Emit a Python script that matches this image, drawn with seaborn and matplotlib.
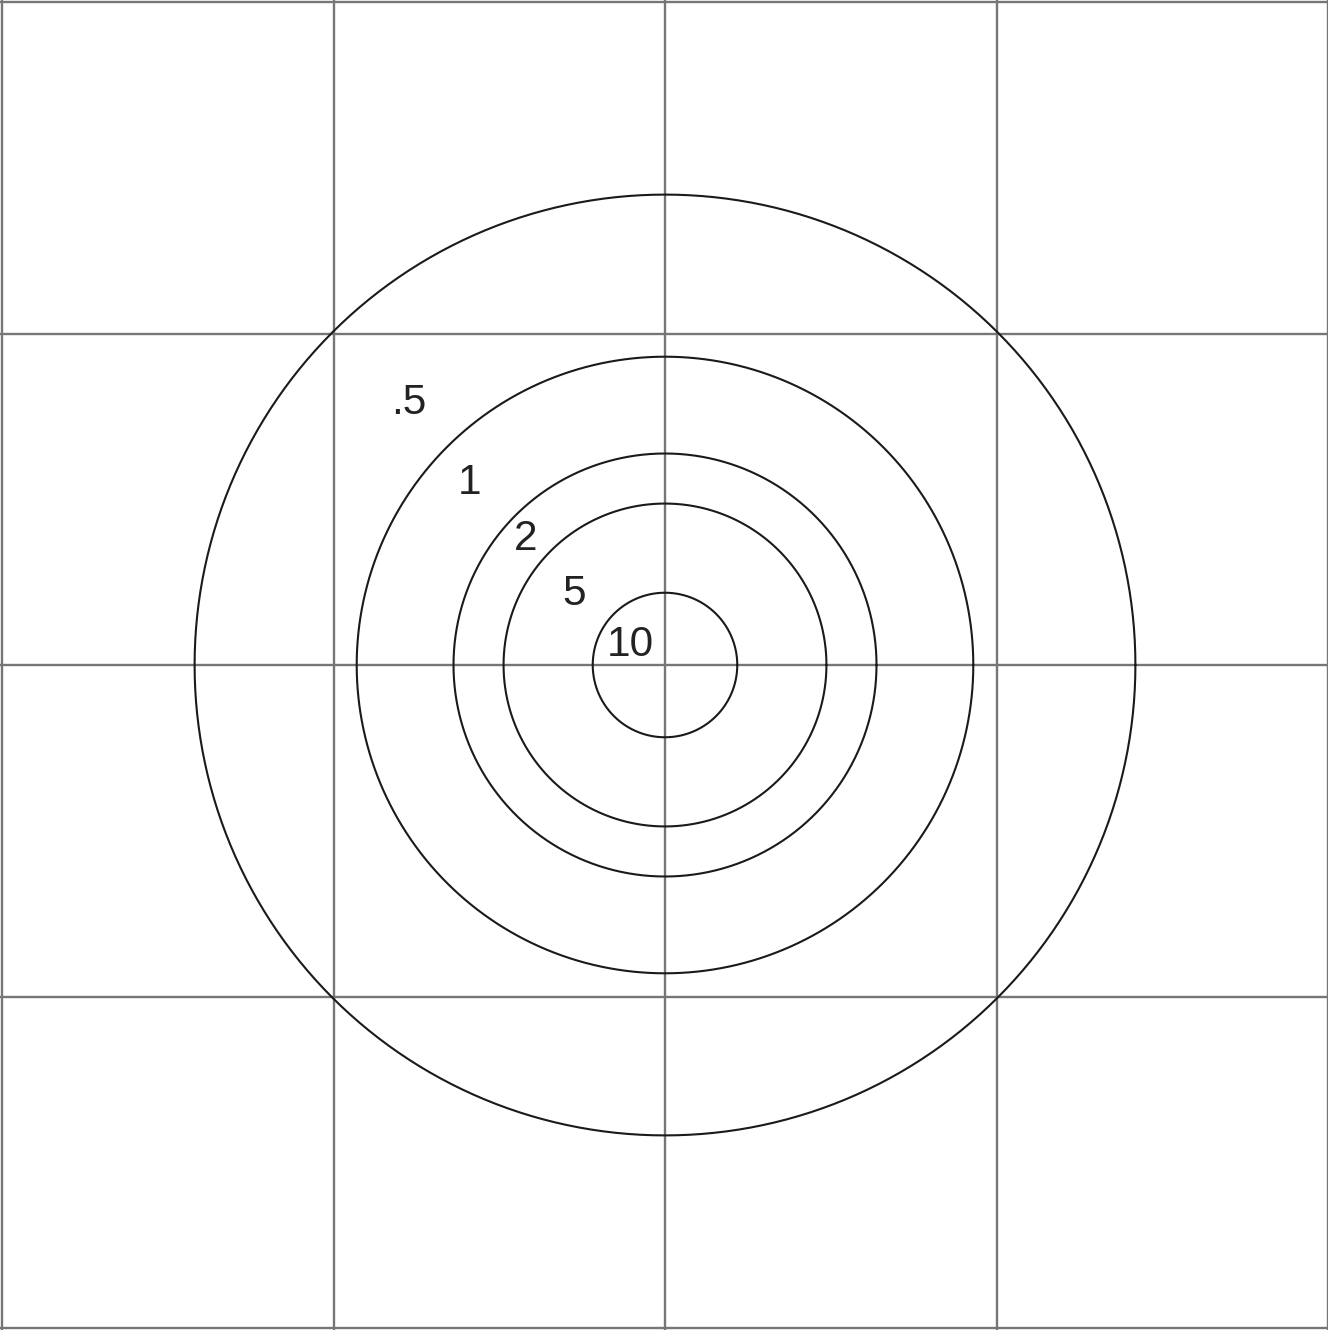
import numpy as np
import pandas as pd
import matplotlib
matplotlib.use("Agg")
import matplotlib.pyplot as plt
import seaborn as sns

# Ring values and radii (grid units, one grid cell = 1)
ring_labels = [".5", "1", "2", "5", "10"]
ring_radii = [1.419, 0.930, 0.638, 0.487, 0.218]
# label positions (grid units, centre = 0,0)
label_x = [-0.772, -0.59, -0.42, -0.275, -0.105]
label_y = [0.79, 0.55, 0.38, 0.215, 0.06]
grid_ticks = [-2, -1, 0, 1, 2]

sns.set_theme(style="white")
plt.rcParams['font.family'] = ['Liberation Sans', 'DejaVu Sans']

theta = np.linspace(0, 2 * np.pi, 721)
rows = []
for lab, r in zip(ring_labels, ring_radii):
    for i, t in enumerate(theta):
        rows.append({"ring": lab, "i": i, "x": r * np.cos(t), "y": r * np.sin(t)})
df = pd.DataFrame(rows)

fig = plt.figure(figsize=(13.28, 13.30), dpi=100)
ax = fig.add_axes([0, 0, 1, 1])
u = 331.5
ax.set_xlim(-665 / u, 663 / u)
ax.set_ylim(-665 / u, 665 / u)

for g in grid_ticks:
    ax.axvline(g, color="#767676", lw=1.7, zorder=1)
    ax.axhline(g, color="#767676", lw=1.7, zorder=1)

sns.lineplot(data=df, x="x", y="y", units="ring", estimator=None, sort=False,
             color="#1a1a1a", lw=1.5, ax=ax, zorder=2, legend=False)

for lab, lx, ly in zip(ring_labels, label_x, label_y):
    ax.text(lx, ly, lab, fontsize=30.5, color="#222222", ha="center", va="center", zorder=3)

ax.set_xlabel("")
ax.set_ylabel("")
ax.set_xticks([])
ax.set_yticks([])
for s in ax.spines.values():
    s.set_visible(False)

fig.savefig("out.png", dpi=100, facecolor="white")
